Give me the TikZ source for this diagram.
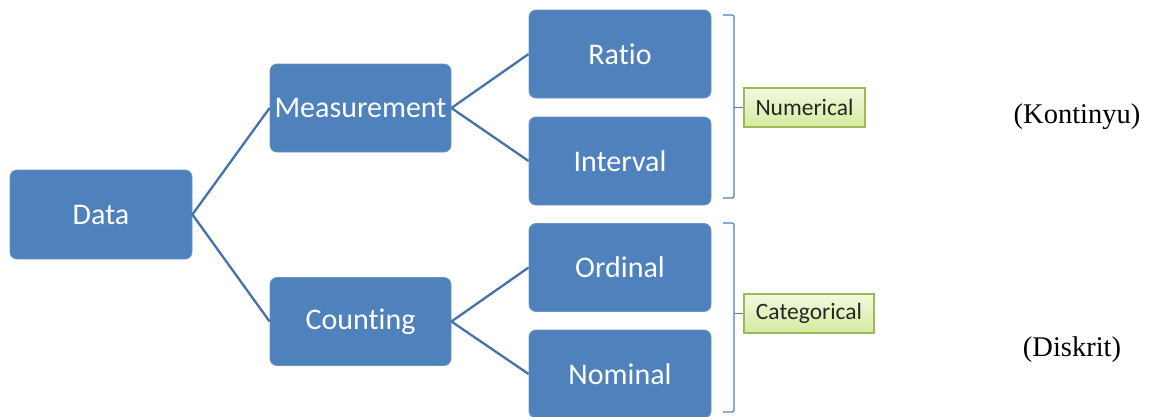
\documentclass[tikz,border=0pt]{standalone}
\usepackage{fontspec}
\setmainfont{Liberation Serif}
\newfontfamily\boxfont[Ligatures=NoCommon]{Carlito}
\definecolor{boxblue}{HTML}{4F81BD}
\definecolor{lineblue}{HTML}{4572AA}
\definecolor{lblborder}{HTML}{9BBB59}
\definecolor{lbltop}{HTML}{F3F9DF}
\definecolor{lblbot}{HTML}{D5EAA0}
\begin{document}
\begin{tikzpicture}[x=1pt,y=-1pt,
  bbox/.style={fill=boxblue, draw=boxblue!85!white, line width=0.8pt, rounded corners=7pt,
    minimum width=182pt, minimum height=88pt, inner sep=0pt, text=white,
    font=\boxfont\fontsize{30}{33}\selectfont},
  lbl/.style={draw=lblborder, line width=1.2pt, top color=lbltop, bottom color=lblbot,
    minimum height=39pt, inner sep=0pt, text=black!85,
    font=\boxfont\fontsize{23.5}{26}\selectfont},
  conn/.style={draw=lineblue, line width=2.3pt},
  brk/.style={draw=boxblue, line width=1.3pt, rounded corners=2pt},
  side/.style={font=\fontsize{28.5}{32}\selectfont, text=black}]
\useasboundingbox (0,0) rectangle (1158,416);
\clip (0,0) rectangle (1158,416);
\fill[white] (0,0) rectangle (1158,416);

\node[bbox, minimum height=89pt] (data) at (101,214.5) {Data};
\node[bbox, minimum width=181pt] (meas) at (360.5,108) {Measurement};
\node[bbox, minimum width=181pt] (count) at (360.5,321.5) {Counting};
\node[bbox] (ratio) at (620,54) {Ratio};
\node[bbox] (interval) at (620,161) {Interval};
\node[bbox] (ordinal) at (620,267.5) {Ordinal};
\node[bbox] (nominal) at (620,374) {Nominal};

\draw[conn] (data.east) -- (meas.west);
\draw[conn] (data.east) -- (count.west);
\draw[conn] (meas.east) -- (ratio.west);
\draw[conn] (meas.east) -- (interval.west);
\draw[conn] (count.east) -- (ordinal.west);
\draw[conn] (count.east) -- (nominal.west);

\node[lbl, minimum width=121pt] (num) at (804.5,107.5) {Numerical};
\node[lbl, minimum width=130pt] (cat) at (809,313.5) {Categorical};

\coordinate (b1a) at (723,15);
\coordinate (b1b) at (734,15);
\coordinate (b1c) at (734,198);
\coordinate (b1d) at (723,198);
\draw[brk] (b1a) -- (b1b) -- (b1c) -- (b1d);
\draw[brk] (734,107.5) -- (num.west);

\coordinate (b2a) at (723,223);
\coordinate (b2b) at (734,223);
\coordinate (b2c) at (734,412);
\coordinate (b2d) at (723,412);
\draw[brk] (b2a) -- (b2b) -- (b2c) -- (b2d);
\draw[brk] (734,313.5) -- (cat.west);

\node[side] (kont) at (1077,117) {(Kontinyu)};
\node[side] (disk) at (1072,350) {(Diskrit)};
\end{tikzpicture}
\end{document}
